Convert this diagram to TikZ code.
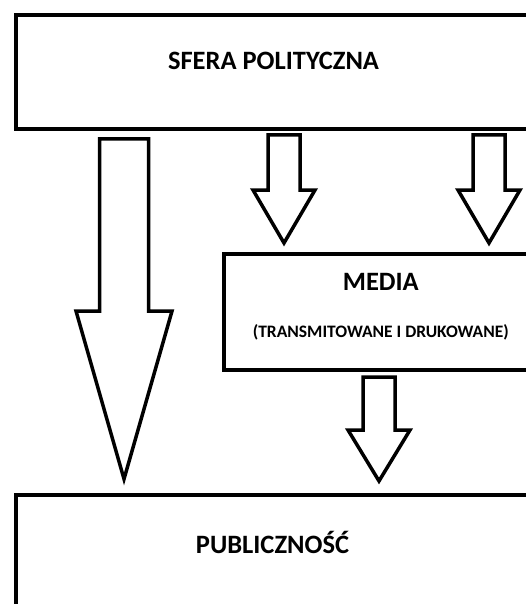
\documentclass[tikz,border=0pt]{standalone}
\usepackage{fontspec}
\setmainfont{Carlito}
% hollow block arrow pointing down: centre x, top, head start, tip, shaft half width, head half width
\newcommand\blockarrow[6]{%
  \draw[hollowarrow] (#1-#5,#2) -- (#1+#5,#2) -- (#1+#5,#3) -- (#1+#6,#3)
    -- (#1,#4) -- (#1-#6,#3) -- (#1-#5,#3) -- cycle;}
\begin{document}
\begin{tikzpicture}[x=1pt,y=-1pt,
  box/.style={draw=black, line width=4pt, fill=white, inner sep=0pt,
    anchor=north west, rectangle},
  title/.style={font=\bfseries\fontsize{26.5}{29}\selectfont, anchor=base, inner sep=0pt},
  subtitle/.style={font=\bfseries\fontsize{17.5}{19}\selectfont, anchor=base, inner sep=0pt},
  hollowarrow/.style={draw=black, line width=3.5pt, line join=miter, fill=white}]
\useasboundingbox (0,0) rectangle (526,604);
\begin{scope}
  \clip (0,0) rectangle (526,604);
  % boxes (they run past the right and bottom edges)
  \node[box, minimum width=560pt, minimum height=114pt] (polit) at (14,13) {};
  \node[box, minimum width=340pt, minimum height=116pt] (media) at (222,251.5) {};
  \node[box, minimum width=560pt, minimum height=140pt] (public) at (14,493) {};
  % labels
  \node[title] (politlabel) at (273.5,70) {SFERA POLITYCZNA};
  \node[title] (medialabel) at (380.8,290) {MEDIA};
  \node[subtitle] (mediasub) at (380.8,337) {(TRANSMITOWANE I DRUKOWANE)};
  \node[title] (publiclabel) at (272.5,553.3) {PUBLICZNOŚĆ};
  % arrows
  \blockarrow{124}{139}{311}{479}{24.5}{48}
  \blockarrow{284}{135}{190}{243}{16}{31}
  \blockarrow{489}{135}{190}{243}{16}{31}
  \blockarrow{379}{377}{430}{481}{16}{31}
\end{scope}
\end{tikzpicture}
\end{document}
